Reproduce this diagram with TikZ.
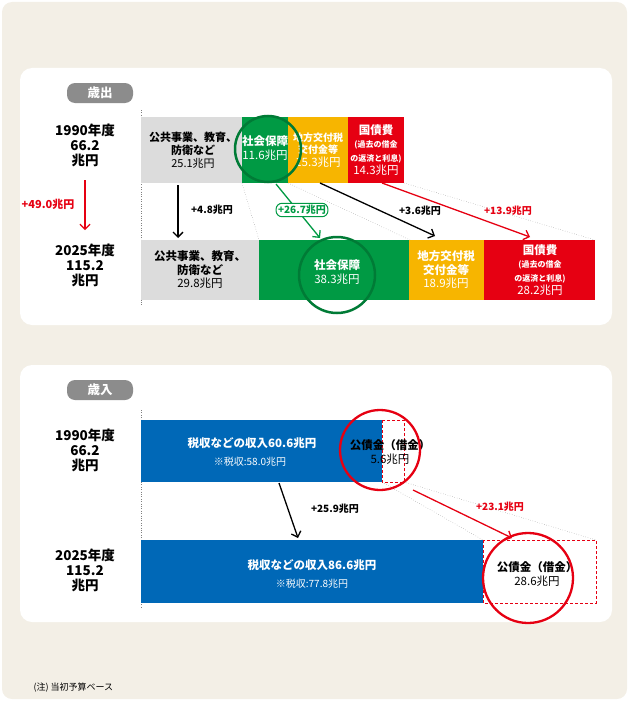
\documentclass[tikz,border=0pt]{standalone}
\usepackage{fontspec}
\setmainfont{Noto Sans CJK JP}
\usetikzlibrary{arrows.meta}
\definecolor{bg}{HTML}{F3EFE6}
\definecolor{gr}{HTML}{DCDCDC}
\definecolor{gn}{HTML}{009A44}
\definecolor{yl}{HTML}{F7B500}
\definecolor{rd}{HTML}{E60012}
\definecolor{bl}{HTML}{0068B7}
\definecolor{tg}{HTML}{8C8C8C}
\newcommand{\smf}{\fontsize{8}{9.5}\selectfont\bfseries}
\newcommand{\nmf}{\fontsize{11.5}{13}\selectfont}
\tikzset{
 bar/.style={inner sep=0pt,align=center,font=\fontsize{11.5}{13.5}\selectfont},
 yr/.style={align=center,font=\bfseries\fontsize{13.5}{15}\selectfont},
 lab/.style={font=\bfseries\fontsize{10}{11}\selectfont},
 arr/.style={-{Straight Barb[length=5pt,width=10pt]},line width=1.3pt},
 dot/.style={dotted,gray},
 tagbox/.style={fill=tg,text=white,rounded corners=8pt,minimum width=66pt,minimum height=20pt,font=\bfseries\fontsize{12.5}{14}\selectfont}
}
\begin{document}
\begin{tikzpicture}[x=1pt,y=-1pt]
\useasboundingbox (0,0) rectangle (629,701);
\fill[bg,rounded corners=10pt] (2,2) rectangle (627,699);
\fill[white,rounded corners=12pt] (20,68) rectangle (612,325);
\fill[white,rounded corners=12pt] (20,365) rectangle (612,622);
\node[tagbox] (t1) at (100,93) {歳出};
\node[tagbox] (t2) at (100,390) {歳入};
\draw[dot] (141,110) -- (141,305);
\draw[dot] (141,410) -- (141,608);
% top 1990
\fill[gr] (141,117) rectangle (242,183);
\fill[gn] (242,117) rectangle (288,183);
\fill[yl] (288,117) rectangle (348,183);
\fill[rd] (348,117) rectangle (404,183);
\node[bar,font=\fontsize{11}{13}\selectfont] (a1) at (193,150) {\bfseries 公共事業、教育、\\\bfseries 防衛など\\25.1兆円};
\node[bar,text=white] (a2) at (265,148) {\bfseries 社会保障\\11.6兆円};
\node[bar,text=white,font=\fontsize{10}{12.5}\selectfont] (a3) at (318,150) {\bfseries 地方交付税\\\bfseries 交付金等\\\nmf 15.3兆円};
\node[bar,text=white] (a4) at (376,150) {\bfseries 国債費\\\smf (過去の借金\\\smf の返済と利息)\\\nmf 14.3兆円};
% top 2025
\fill[gr] (141,240) rectangle (259,300);
\fill[gn] (259,240) rectangle (409,300);
\fill[yl] (409,240) rectangle (484,300);
\fill[rd] (484,240) rectangle (595,300);
\node[bar] (b1) at (200,270) {\bfseries 公共事業、教育、\\\bfseries 防衛など\\29.8兆円};
\node[bar,text=white] (b2) at (337,272) {\bfseries 社会保障\\38.3兆円};
\node[bar,text=white] (b3) at (446,270) {\bfseries 地方交付税\\\bfseries 交付金等\\18.9兆円};
\node[bar,text=white] (b4) at (540,270) {\bfseries 国債費\\\smf (過去の借金\\\smf の返済と利息)\\\nmf 28.2兆円};
\draw[gn!80!black,line width=2.5pt] (268,149) circle (33);
\draw[gn!80!black,line width=2.5pt] (337,275) circle (38);
\draw[dot] (242,183) -- (259,240);
\draw[dot] (288,183) -- (410,240);
\draw[dot] (404,183) -- (595,240);
\draw[arr] (178,185) -- (178,238);
\draw[arr,gn] (276,184) -- (320,238);
\draw[arr] (320,183) -- (435,236);
\draw[arr,rd] (382,183) -- (530,237);
\node[lab] (l1) at (212,210) {+4.8兆円};
\node[lab,text=gn,draw=gn,line width=1pt,rounded corners=6pt,fill=white,inner sep=2pt] (l2) at (302,210) {+26.7兆円};
\node[lab] (l3) at (420,211) {+3.6兆円};
\node[lab,text=rd] (l4) at (508,211) {+13.9兆円};
\node[yr] (y1) at (85,145) {1990年度\\66.2\\兆円};
\node[yr] (y2) at (85,265) {2025年度\\115.2\\兆円};
\draw[arr,rd,line width=1.2pt] (85,180) -- (85,230);
\node[lab,text=rd,font=\bfseries\fontsize{11}{12}\selectfont] (l0) at (48,204) {+49.0兆円};
% bottom
\fill[bl] (141,420) rectangle (382,482);
\draw[rd,densely dashed,line width=0.8pt] (382,420) rectangle (404,482);
\node[bar,text=white] (c1) at (252,443) {\bfseries 税収などの収入60.6兆円};
\node[bar,text=white,font=\fontsize{10}{12}\selectfont] (c1b) at (250,462) {※税収:58.0兆円};
\node[bar] (c2) at (390,452) {\bfseries 公債金（借金）\\5.6兆円};
\draw[rd,line width=2.3pt] (380,450) circle (40);
\fill[bl] (141,540) rectangle (483,603);
\draw[rd,densely dashed,line width=0.8pt] (483,540) rectangle (596,603);
\node[bar,text=white] (d1) at (312,565) {\bfseries 税収などの収入86.6兆円};
\node[bar,text=white,font=\fontsize{10}{12}\selectfont] (d1b) at (312,584) {※税収:77.8兆円};
\node[bar] (d2) at (537,574) {\bfseries 公債金（借金）\\28.6兆円};
\draw[rd,line width=2.3pt] (528,578) circle (45);
\draw[dot] (382,482) -- (483,540);
\draw[dot] (404,482) -- (596,540);
\draw[arr] (279,483) -- (298,538);
\draw[arr,rd] (413,490) -- (512,538);
\node[lab] (l5) at (335,509) {+25.9兆円};
\node[lab,text=rd] (l6) at (500,507) {+23.1兆円};
\node[yr] (y3) at (85,450) {1990年度\\66.2\\兆円};
\node[yr] (y4) at (85,570) {2025年度\\115.2\\兆円};
\node[font=\fontsize{9}{11}\selectfont,anchor=west] (n) at (30,688) {(注) 当初予算ベース};
\end{tikzpicture}
\end{document}
